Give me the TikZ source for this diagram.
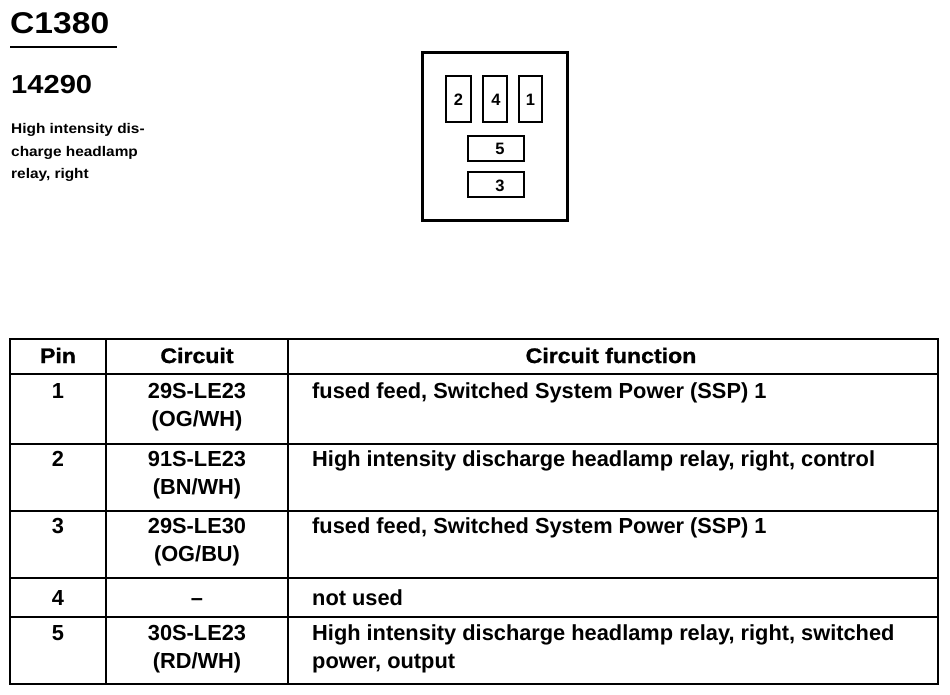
\documentclass[tikz,border=0pt]{standalone}
\usepackage{fontspec}
\setmainfont{Liberation Sans}
\newfontfamily\widefont{Liberation Sans}[FakeStretch=1.12]
\newfontfamily\descfont{Liberation Sans}[FakeStretch=1.1]
\newfontfamily\hdfont{Liberation Sans}[FakeStretch=1.1,BoldFeatures={FakeBold=1.2}]
\begin{document}
\begin{tikzpicture}[x=1pt,y=-1pt,
  cell/.style={inner sep=0pt, anchor=base, font=\fontsize{21.8}{28}\selectfont\bfseries},
  ltext/.style={cell, anchor=base west},
  hdr/.style={inner sep=0pt, anchor=base, font=\hdfont\fontsize{21}{28}\selectfont\bfseries},
  pinlbl/.style={font=\fontsize{16.5}{16.5}\selectfont\bfseries, inner sep=0pt},
  tline/.style={line width=2.5pt}]
\useasboundingbox (0,0) rectangle (950,694);
% title
\node[anchor=base west, inner sep=0pt, font=\widefont\fontsize{30}{30}\selectfont\bfseries] (title) at (10,33) {C1380};
\draw[line width=2pt] (10,47) -- (117,47);
\node[anchor=base west, inner sep=0pt, font=\widefont\fontsize{26}{26}\selectfont\bfseries] (num) at (11,93) {14290};
\node[anchor=base west, inner sep=0pt, font=\descfont\fontsize{14}{14}\selectfont\bfseries] (d1) at (11,133) {High intensity dis-};
\node[anchor=base west, inner sep=0pt, font=\descfont\fontsize{14}{14}\selectfont\bfseries] (d2) at (11,156) {charge headlamp};
\node[anchor=base west, inner sep=0pt, font=\descfont\fontsize{14}{14}\selectfont\bfseries] (d3) at (11,178) {relay, right};
% connector face
\draw[line width=3pt] (422,52) rectangle (567,220);
\draw[line width=2pt] (446,76) rectangle (471,122);
\draw[line width=2pt] (483,76) rectangle (507,122);
\draw[line width=2pt] (519,76) rectangle (542,122);
\draw[line width=2pt] (468,136) rectangle (524,161);
\draw[line width=2pt] (468,172) rectangle (524,197);
\node[pinlbl] (p2) at (458.5,100) {2};
\node[pinlbl] (p4) at (496,100) {4};
\node[pinlbl] (p1) at (530.5,100) {1};
\node[pinlbl] (p5) at (500,149) {5};
\node[pinlbl] (p3) at (500,186) {3};
% table
\draw[tline] (10,339) rectangle (938,684);
\foreach \yy in {374,444,511,578,617} \draw[tline] (10,\yy) -- (938,\yy);
\draw[line width=2pt] (106,339) -- (106,684);
\draw[line width=2pt] (288,339) -- (288,684);
% header
\node[hdr] (h1) at (58,363) {Pin};
\node[hdr] (h2) at (197,363) {Circuit};
\node[hdr] (h3) at (611,363) {Circuit function};
% row 1
\node[cell] (r1a) at (58,398) {1};
\node[cell] (r1b) at (197,398) {29S-LE23};
\node[cell] (r1bb) at (197,426) {(OG/WH)};
\node[ltext] (r1c) at (312,398) {fused feed, Switched System Power (SSP) 1};
% row 2
\node[cell] (r2a) at (58,466) {2};
\node[cell] (r2b) at (197,466) {91S-LE23};
\node[cell] (r2bb) at (197,494) {(BN/WH)};
\node[ltext] (r2c) at (312,466) {High intensity discharge headlamp relay, right, control};
% row 3
\node[cell] (r3a) at (58,533) {3};
\node[cell] (r3b) at (197,533) {29S-LE30};
\node[cell] (r3bb) at (197,561) {(OG/BU)};
\node[ltext] (r3c) at (312,533) {fused feed, Switched System Power (SSP) 1};
% row 4
\node[cell] (r4a) at (58,605) {4};
\node[cell] (r4b) at (197,605) {--};
\node[ltext] (r4c) at (312,605) {not used};
% row 5
\node[cell] (r5a) at (58,640) {5};
\node[cell] (r5b) at (197,640) {30S-LE23};
\node[cell] (r5bb) at (197,668) {(RD/WH)};
\node[ltext] (r5c) at (312,640) {High intensity discharge headlamp relay, right, switched};
\node[ltext] (r5cc) at (312,668) {power, output};
\end{tikzpicture}
\end{document}
